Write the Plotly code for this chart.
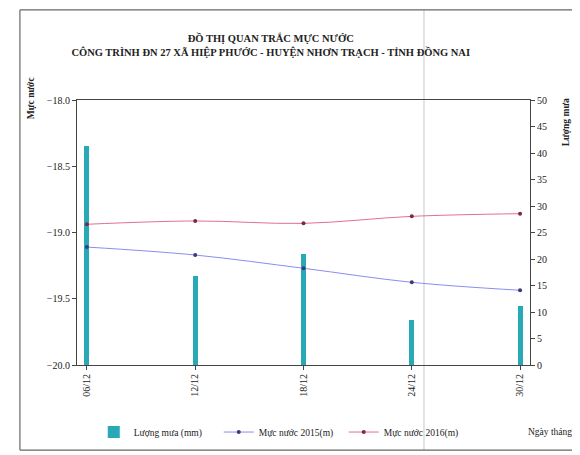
import plotly.graph_objects as go

dates = ["06/12", "12/12", "18/12", "24/12", "30/12"]
day_pos = [6, 12, 18, 24, 30]
rain_mm = [41.4, 16.8, 20.9, 8.5, 11.1]
level_2015 = [-19.11, -19.17, -19.27, -19.376, -19.436]
level_2016 = [-18.938, -18.913, -18.931, -18.878, -18.858]
left_ticks = [-18.0, -18.5, -19.0, -19.5, -20.0]
right_ticks = [0, 5, 10, 15, 20, 25, 30, 35, 40, 45, 50]

FONT = "Liberation Serif"

fig = go.Figure()
fig.add_trace(go.Bar(
    x=day_pos, y=rain_mm, name="Lượng mưa (mm)", yaxis="y",
    marker=dict(color="#27a9b6", line=dict(width=0)), width=0.28,
))
fig.add_trace(go.Scatter(
    x=day_pos, y=level_2015, name="Mực nước 2015(m)", yaxis="y2",
    mode="lines+markers", line=dict(color="#8c8cf0", width=1, shape="spline"),
    marker=dict(color="#3a3a7a", size=4),
))
fig.add_trace(go.Scatter(
    x=day_pos, y=level_2016, name="Mực nước 2016(m)", yaxis="y2",
    mode="lines+markers", line=dict(color="#e07090", width=1, shape="spline"),
    marker=dict(color="#7a2a40", size=4),
))

fig.update_layout(
    width=580, height=455,
    margin=dict(l=69, r=58, t=92, b=98, autoexpand=False),
    paper_bgcolor="white", plot_bgcolor="white",
    font=dict(family=FONT, size=10, color="#222"),
    title=dict(
        text="<b>ĐỒ THỊ QUAN TRẮC MỰC NƯỚC<br>CÔNG TRÌNH ĐN 27 XÃ HIỆP PHƯỚC - HUYỆN NHƠN TRẠCH - TỈNH ĐỒNG NAI</b>",
        x=0.453, xref="container", xanchor="center", y=0.925, yanchor="top",
        font=dict(family=FONT, size=10.5, color="#222"),
    ),
    xaxis=dict(
        range=[5.45, 30.55], tickmode="array", tickvals=day_pos, ticktext=dates,
        tickangle=-90, ticks="outside", ticklen=4, showgrid=False, zeroline=False,
        showline=True, linecolor="#444", linewidth=1, mirror=True,
        tickfont=dict(family=FONT, size=10),
    ),
    yaxis=dict(
        range=[0, 50], side="right", tickmode="array", tickvals=right_ticks,
        ticks="outside", ticklen=4, showgrid=False, zeroline=False,
        showline=True, linecolor="#444", linewidth=1,
        tickfont=dict(family=FONT, size=10),
    ),
    yaxis2=dict(
        range=[-20, -18], side="left", overlaying="y", tickmode="array",
        tickvals=left_ticks, tickformat=".1f", ticks="outside", ticklen=4,
        showgrid=False, zeroline=False, showline=True, linecolor="#444", linewidth=1,
        tickfont=dict(family=FONT, size=10),
    ),
    showlegend=True,
    legend=dict(
        orientation="h", x=0.037, xanchor="left", y=-0.253, yanchor="middle",
        font=dict(family=FONT, size=9.5), entrywidth=80, entrywidthmode="pixels",
        itemwidth=30, bgcolor="rgba(0,0,0,0)",
    ),
    bargap=0,
)

fig.add_annotation(text="<b>Mực nước</b>", x=-0.101, y=1.008, xref="paper", yref="paper",
                   xanchor="center", yanchor="middle",
                   showarrow=False, textangle=-90, font=dict(family=FONT, size=9.5))
fig.add_annotation(text="<b>Lượng mưa</b>", x=1.08, y=0.917, xref="paper", yref="paper",
                   xanchor="center", yanchor="middle",
                   showarrow=False, textangle=-90, font=dict(family=FONT, size=9.5))
fig.add_annotation(text="Ngày tháng", x=1.097, y=-0.253, xref="paper", yref="paper",
                   xanchor="right", yanchor="middle",
                   showarrow=False, font=dict(family=FONT, size=9.5))

# scanned page frame
frame_col = "#666"
for (x0, y0, x1, y1, w) in [
    (-0.126, 1.34, 1.1, 1.34, 1.2),     # inner top
    (-0.126, -0.321, 1.1, -0.321, 1.2),  # inner bottom
    (-0.126, -0.321, -0.126, 1.34, 1.2),  # inner left
    (1.1, -0.321, 1.1, 1.34, 1.2),        # inner right
    (-0.17, 1.366, 1.11, 1.366, 2),       # outer top
    (-0.163, -0.33, -0.163, 1.37, 1.5),   # outer left
]:
    fig.add_shape(type="line", xref="paper", yref="paper", x0=x0, y0=y0, x1=x1, y1=y1,
                  line=dict(color=frame_col, width=w))
fig.add_shape(type="line", xref="paper", yref="paper", x0=0.766, x1=0.766,
              y0=-0.321, y1=1.34, line=dict(color="#c8c8c8", width=1), layer="below")

fig.write_html("out.html")
